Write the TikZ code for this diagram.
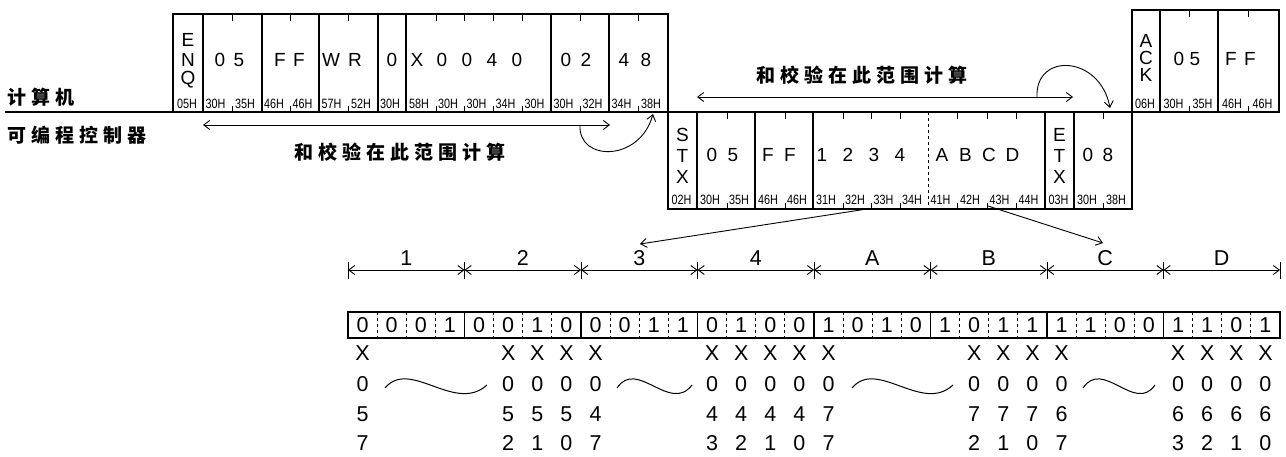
\documentclass[tikz,border=0pt]{standalone}
\usepackage{fontspec}
\setmainfont{Liberation Sans}
\newfontfamily\cjk{Noto Sans CJK SC}
\newfontfamily\hexfont{Liberation Sans}[FakeStretch=0.8]
\usetikzlibrary{arrows.meta}
\newcommand{\zg}{\kern5pt}
\begin{document}
\begin{tikzpicture}[x=1pt,y=-1pt,
  boxline/.style={line width=1.1pt},
  tk/.style={line width=1pt},
  big/.style={font=\fontsize{19}{19}\selectfont, inner sep=0pt},
  bigger/.style={font=\fontsize{21.5}{22}\selectfont, inner sep=0pt},
  hex/.style={font=\hexfont\fontsize{13.5}{14}\selectfont, inner sep=0pt},
  zh/.style={font=\cjk\bfseries\fontsize{19}{19}\selectfont, inner sep=0pt},
  arr/.style={line width=0.9pt, -{Straight Barb[length=6pt,width=9pt]}},
  darr/.style={line width=0.9pt, {Straight Barb[length=6pt,width=9pt]}-{Straight Barb[length=6pt,width=9pt]}},
  wave/.style={line width=1pt}]
\useasboundingbox (0,0) rectangle (1286,457);

% side labels
\node[zh, anchor=west] (pc) at (7,97) {计\zg 算\zg 机};
\node[zh, anchor=west] (plc) at (7,135) {可\zg 编\zg 程\zg 控\zg 制\zg 器};

% main separator line
\draw[line width=1.3pt] (5,112) -- (1279,112);

% ---------- computer frame (ENQ) ----------
\draw[boxline] (173,14) rectangle (668,112);
\foreach \x in {203,262,319,378,406,551,609} \draw[boxline] (\x,14) -- (\x,112);
\foreach \x in {232,290,348,436,464,493,522,580,638} {
  \draw[tk] (\x,14) -- ++(0,7);
  \draw[tk] (\x,112) -- ++(0,-6);
}
\foreach \c [count=\k from 0] in {E,N,Q} \node[big] (enq\k) at (188,40+20*\k) {\c};
\foreach \c [count=\k from 0] in {0,5} \node[big] (ea\k) at (220+19*\k,60) {\c};
\foreach \c [count=\k from 0] in {F,F} \node[big] (eb\k) at (280+19*\k,60) {\c};
\foreach \c [count=\k from 0] in {W,R} \node[big] (ec\k) at (331+24*\k,60) {\c};
\node[big] (ed0) at (392,60) {0};
\foreach \c [count=\k from 0] in {X,0,0,4,0} \node[big] (ee\k) at (417+25*\k,60) {\c};
\foreach \c [count=\k from 0] in {0,2} \node[big] (ef\k) at (566+20*\k,60) {\c};
\foreach \c [count=\k from 0] in {4,8} \node[big] (eg\k) at (624+22*\k,60) {\c};
\foreach \x/\t [count=\k] in {187/05H,215.5/30H,245/35H,274/46H,302.5/46H,331.5/57H,361/52H,390/30H,419/58H,448/30H,476.5/30H,505.5/34H,534.5/30H,563.5/30H,592.5/32H,621.5/34H,651/38H}
  \node[hex] (eh\k) at (\x,104) {\t};

% ---------- computer frame (ACK) ----------
\draw[boxline] (1132,10) rectangle (1279,112);
\foreach \x in {1160,1218} \draw[boxline] (\x,10) -- (\x,112);
\foreach \x in {1189,1248} {
  \draw[tk] (\x,10) -- ++(0,7);
  \draw[tk] (\x,112) -- ++(0,-6);
}
\foreach \c [count=\k from 0] in {A,C,K} \node[big] (ack\k) at (1146,41+17*\k) {\c};
\foreach \c [count=\k from 0] in {0,5} \node[big] (aa\k) at (1179+16*\k,59) {\c};
\foreach \c [count=\k from 0] in {F,F} \node[big] (ab\k) at (1231+19*\k,59) {\c};
\foreach \x/\t [count=\k] in {1145/06H,1173.5/30H,1202.5/35H,1232/46H,1262.5/46H}
  \node[hex] (ah\k) at (\x,104) {\t};

% ---------- PLC frame (STX) ----------
\draw[boxline] (668,112) rectangle (1132,209);
\foreach \x in {697,755,813,1045,1074} \draw[boxline] (\x,112) -- (\x,209);
\draw[tk, dashed] (928,112) -- (928,209);
\foreach \x in {727,785,843,871,900,957,987,1016,1103} {
  \draw[tk] (\x,112) -- ++(0,7);
  \draw[tk] (\x,209) -- ++(0,-6);
}
\foreach \c [count=\k from 0] in {S,T,X} \node[big] (stx\k) at (682.5,135+21*\k) {\c};
\foreach \c [count=\k from 0] in {E,T,X} \node[big] (etx\k) at (1059.5,135+21*\k) {\c};
\foreach \c [count=\k from 0] in {0,5} \node[big] (sa\k) at (712+21*\k,155) {\c};
\foreach \c [count=\k from 0] in {F,F} \node[big] (sb\k) at (768+22*\k,155) {\c};
\foreach \c [count=\k from 0] in {1,2,3,4} \node[big] (sc\k) at (822+26*\k,155) {\c};
\foreach \c [count=\k from 0] in {A,B,C,D} \node[big] (sd\k) at (942+23.5*\k,155) {\c};
\foreach \c [count=\k from 0] in {0,8} \node[big] (se\k) at (1088+20*\k,155) {\c};
\foreach \x/\t [count=\k] in {681.5/02H,710/30H,739/35H,768/46H,797/46H,826/31H,855/32H,883.5/33H,912/34H,940.5/41H,970/42H,999.5/43H,1028.5/44H,1058.5/03H,1087/30H,1116/38H}
  \node[hex] (sh\k) at (\x,200) {\t};

% ---------- checksum ranges ----------
\coordinate (la) at (203,125);
\coordinate (lb) at (610,125);
\draw[darr] (la) -- (lb);
\node[zh] (sumL) at (400,152) {和\zg 校\zg 验\zg 在\zg 此\zg 范\zg 围\zg 计\zg 算};
\coordinate (lc) at (580,125);
\coordinate (ld) at (653,114);
\draw[arr] (lc) .. controls (578,162) and (640,162) .. (ld);

\coordinate (ra) at (697,97);
\coordinate (rb) at (1073,97);
\draw[darr] (ra) -- (rb);
\node[zh] (sumR) at (862,75) {和\zg 校\zg 验\zg 在\zg 此\zg 范\zg 围\zg 计\zg 算};
\coordinate (rc) at (1037,97);
\coordinate (rd) at (1110,108);
\draw[arr] (rc) .. controls (1035,52) and (1100,55) .. (rd);

% ---------- expansion arrows ----------
\coordinate (s1) at (867,209);
\coordinate (t3) at (640,244);
\draw[arr] (s1) -- (t3);
\coordinate (s2) at (988,206);
\coordinate (tC) at (1103,243);
\draw[arr] (s2) -- (tC);

% ---------- dimension line ----------
\foreach \k in {0,...,8} \draw[tk] (348+116.5*\k,262) -- (348+116.5*\k,279);
\foreach \l [count=\k from 0] in {1,2,3,4,A,B,C,D} {
  \draw[darr] (348+116.5*\k,270) -- (464.5+116.5*\k,270);
  \node[bigger] (dl\k) at (406.25+116.5*\k,258) {\l};
}

% ---------- bit row ----------
\draw[boxline] (348,312) rectangle (1280,338);
\foreach \g in {0,...,7} {
  \ifnum\g>0 \draw[boxline] (348+116.5*\g,312) -- (348+116.5*\g,338); \fi
  \foreach \j in {1,2,3} \draw[tk, dashed] (348+116.5*\g+29.125*\j,312) -- (348+116.5*\g+29.125*\j,338);
}
\foreach \b [count=\i from 0] in {0,0,0,1,0,0,1,0,0,0,1,1,0,1,0,0,1,0,1,0,1,0,1,1,1,1,0,0,1,1,0,1}
  \node[bigger] (bit\i) at (362.5625+29.125*\i,325) {\b};

% ---------- addresses ----------
\foreach \i/\a/\b/\c in {0/0/5/7,5/0/5/2,6/0/5/1,7/0/5/0,8/0/4/7,12/0/4/3,13/0/4/2,14/0/4/1,15/0/4/0,16/0/7/7,21/0/7/2,22/0/7/1,23/0/7/0,24/0/6/7,28/0/6/3,29/0/6/2,30/0/6/1,31/0/6/0} {
  \node[bigger] (ax\i) at (362.5625+29.125*\i,353) {X};
  \node[bigger] (aa\i) at (362.5625+29.125*\i,384) {\a};
  \node[bigger] (ab\i) at (362.5625+29.125*\i,414) {\b};
  \node[bigger] (ac\i) at (362.5625+29.125*\i,443) {\c};
}
\draw[wave] (385,388) .. controls (410,358) and (455,414) .. (487,385);
\draw[wave] (617,388) .. controls (637,358) and (670,414) .. (692,385);
\draw[wave] (852,388) .. controls (877,358) and (922,414) .. (953,385);
\draw[wave] (1083,388) .. controls (1103,358) and (1135,414) .. (1155,385);
\end{tikzpicture}
\end{document}
